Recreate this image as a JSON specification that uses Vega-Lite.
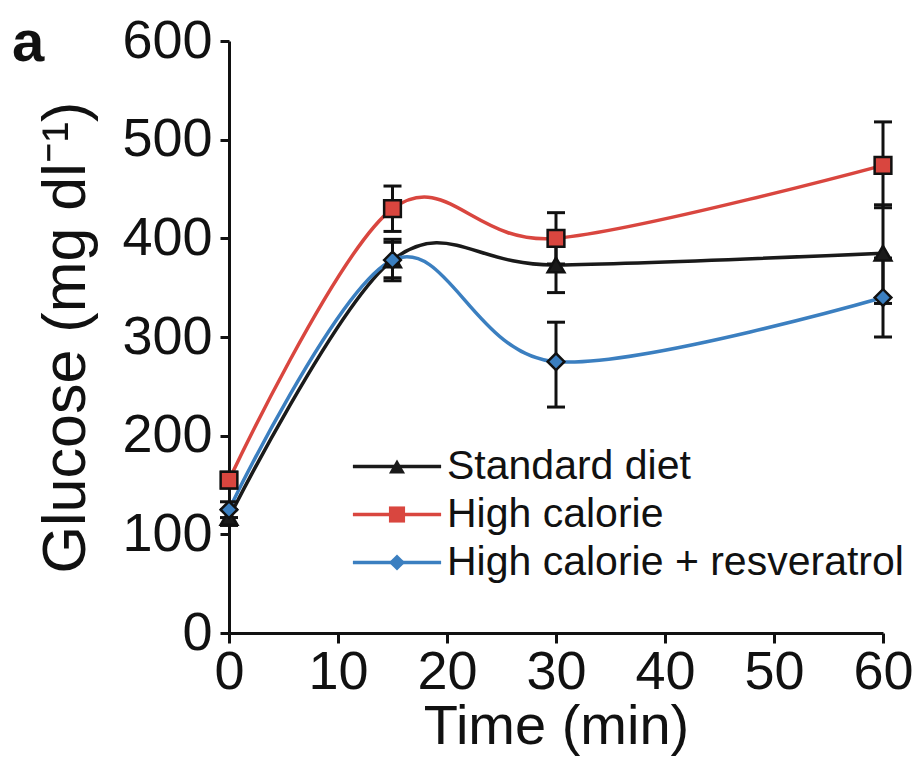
{
  "$schema": "https://vega.github.io/schema/vega-lite/v6.json",
  "width": 654,
  "height": 592,
  "autosize": "none",
  "padding": {"left": 229, "top": 41, "right": 38, "bottom": 130},
  "background": "white",
  "title": {"text": "a", "anchor": "start", "frame": "group", "fontSize": 58, "fontWeight": "bold", "dx": -217, "dy": 105, "offset": 0, "baseline": "alphabetic", "color": "#111", "font": "Liberation Sans"},
  "config": {"view": {"stroke": null}, "font": "Liberation Sans"},
  "data": {"values": [
    {"group": "Standard diet", "time": 0, "glucose": 117, "lo": 109, "hi": 125},
    {"group": "Standard diet", "time": 15, "glucose": 378, "lo": 357, "hi": 399},
    {"group": "Standard diet", "time": 30, "glucose": 373, "lo": 345, "hi": 401},
    {"group": "Standard diet", "time": 60, "glucose": 385, "lo": 334, "hi": 434},
    {"group": "High calorie", "time": 0, "glucose": 155, "lo": 147, "hi": 163},
    {"group": "High calorie", "time": 15, "glucose": 430, "lo": 407, "hi": 453},
    {"group": "High calorie", "time": 30, "glucose": 400, "lo": 374, "hi": 426},
    {"group": "High calorie", "time": 60, "glucose": 474, "lo": 431, "hi": 518},
    {"group": "High calorie + resveratrol", "time": 0, "glucose": 125, "lo": 117, "hi": 133},
    {"group": "High calorie + resveratrol", "time": 15, "glucose": 378, "lo": 360, "hi": 396},
    {"group": "High calorie + resveratrol", "time": 30, "glucose": 275, "lo": 229, "hi": 315},
    {"group": "High calorie + resveratrol", "time": 60, "glucose": 340, "lo": 300, "hi": 380}
  ]},
  "layer": [
    {
      "transform": [{"filter": "datum.glucose > 0"}],
      "mark": {"type": "line", "interpolate": "cardinal", "strokeWidth": 3.5},
      "encoding": {
        "x": {"field": "time", "type": "quantitative", "scale": {"domain": [0, 60], "nice": false},
          "axis": {"values": [0, 10, 20, 30, 40, 50, 60], "grid": false, "tickSize": 10, "tickWidth": 3, "domainWidth": 3, "domainColor": "#111", "tickColor": "#111", "labelFontSize": 54, "labelColor": "#111", "labelPadding": 2, "labelFlush": false, "title": "Time (min)", "titleFontSize": 56, "titleFontWeight": "normal", "titleColor": "#111", "titlePadding": 0}},
        "y": {"field": "glucose", "type": "quantitative", "scale": {"domain": [0, 600], "nice": false},
          "axis": {"values": [0, 100, 200, 300, 400, 500, 600], "grid": false, "tickSize": 9, "tickWidth": 3, "domainWidth": 3, "domainColor": "#111", "tickColor": "#111", "labelFontSize": 54, "labelColor": "#111", "labelPadding": 8, "labelFlush": false, "title": "Glucose (mg dl⁻¹)", "titleFontSize": 61, "titleFontWeight": "normal", "titleColor": "#111", "titlePadding": 24}},
        "stroke": {"field": "group", "type": "nominal", "sort": ["Standard diet", "High calorie", "High calorie + resveratrol"],
          "scale": {"range": ["#1a1a1a", "#d9463f", "#3b7fc0"]},
          "legend": {"orient": "none", "legendX": 147.5, "legendY": 405, "title": null, "symbolType": "M-6.3,0H6.3", "symbolSize": 196, "symbolStrokeWidth": 3.5, "symbolFillColor": "transparent", "labelExpr": "''", "labelFontSize": 41, "labelOffset": 29.5, "rowPadding": 6, "zindex": 1}}
      }
    },
    {
      "mark": {"type": "rule", "strokeWidth": 3, "color": "#111"},
      "encoding": {
        "x": {"field": "time", "type": "quantitative"},
        "y": {"field": "lo", "type": "quantitative"},
        "y2": {"field": "hi"}
      }
    },
    {
      "mark": {"type": "tick", "orient": "horizontal", "thickness": 3, "size": 18, "color": "#111", "opacity": 1},
      "encoding": {
        "x": {"field": "time", "type": "quantitative"},
        "y": {"field": "lo", "type": "quantitative"}
      }
    },
    {
      "mark": {"type": "tick", "orient": "horizontal", "thickness": 3, "size": 18, "color": "#111", "opacity": 1},
      "encoding": {
        "x": {"field": "time", "type": "quantitative"},
        "y": {"field": "hi", "type": "quantitative"}
      }
    },
    {
      "mark": {"type": "point", "filled": true, "size": 280, "stroke": "#111", "strokeWidth": 2.5, "opacity": 1},
      "encoding": {
        "x": {"field": "time", "type": "quantitative"},
        "y": {"field": "glucose", "type": "quantitative"},
        "color": {"field": "group", "type": "nominal",
          "scale": {"domain": ["Standard diet", "High calorie", "High calorie + resveratrol"], "range": ["#1a1a1a", "#d9463f", "#3b7fc0"]},
          "legend": {"orient": "none", "legendX": 147.5, "legendY": 405, "title": null, "symbolSize": 260, "symbolStrokeColor": "#111", "symbolStrokeWidth": 2.5, "symbolOpacity": 1, "labelFontSize": 41, "labelColor": "#111", "labelOffset": 29.5, "labelLimit": 0, "rowPadding": 6, "zindex": 2}},
        "shape": {"field": "group", "type": "nominal",
          "scale": {"domain": ["Standard diet", "High calorie", "High calorie + resveratrol"], "range": ["triangle-up", "square", "diamond"]},
          "legend": {"orient": "none", "legendX": 147.5, "legendY": 405, "title": null, "symbolSize": 260, "symbolStrokeColor": "#111", "symbolStrokeWidth": 2.5, "symbolOpacity": 1, "labelFontSize": 41, "labelColor": "#111", "labelOffset": 29.5, "labelLimit": 0, "rowPadding": 6, "zindex": 2}}
      }
    }
  ]
}
